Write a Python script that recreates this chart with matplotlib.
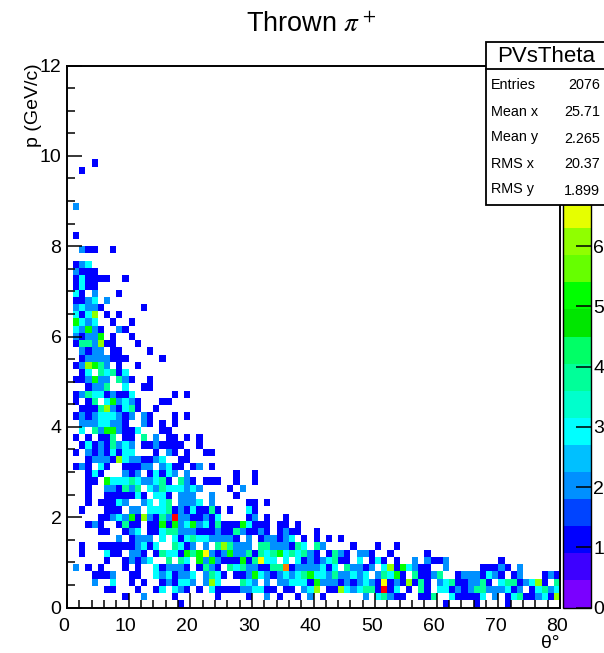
import numpy as np
import matplotlib
matplotlib.use("Agg")
import matplotlib.pyplot as plt
from matplotlib.colors import ListedColormap, BoundaryNorm
from matplotlib.patches import Rectangle
from matplotlib.ticker import MultipleLocator
from matplotlib.transforms import ScaledTranslation

plt.rcParams['font.family'] = ['Liberation Sans', 'DejaVu Sans']
plt.rcParams['mathtext.fontset'] = 'stix'

W, H = 604, 653

# counts per p bin: {theta bin: entries}, bins are 1 deg x 0.16 GeV/c
r00 = {18: 1, 61: 1, 66: 1, 71: 1}
r01 = {9: 1, 12: 2, 17: 1, 24: 1, 29: 1, 32: 2, 34: 1, 37: 1, 39: 2, 41: 1, 48: 2, 50: 3, 51: 4, 52: 2, 53: 1, 54: 1, 57: 1, 58: 1, 59: 4, 62: 3, 63: 1, 64: 1, 65: 1, 66: 1, 67: 3, 69: 2, 71: 1, 72: 3, 73: 4, 74: 1, 75: 1, 76: 2, 77: 3, 78: 1, 79: 6}
r02 = {6: 1, 7: 1, 11: 1, 14: 1, 15: 3, 17: 3, 18: 2, 19: 1, 21: 1, 23: 3, 24: 1, 25: 1, 26: 1, 27: 1, 28: 2, 29: 2, 30: 3, 31: 3, 32: 1, 33: 1, 35: 1, 36: 1, 38: 2, 39: 3, 40: 6, 42: 1, 43: 1, 44: 6, 45: 3, 46: 2, 47: 3, 48: 4, 49: 4, 50: 1, 51: 9, 52: 1, 53: 3, 55: 1, 57: 4, 58: 1, 60: 3, 61: 3, 62: 1, 63: 2, 64: 1, 65: 2, 66: 4, 67: 4, 68: 2, 69: 2, 70: 2, 71: 3, 72: 1, 73: 2, 75: 1, 76: 3, 77: 4, 78: 2, 79: 3}
r03 = {4: 2, 7: 3, 10: 1, 12: 1, 15: 1, 16: 2, 17: 1, 18: 3, 19: 3, 20: 2, 22: 2, 23: 6, 24: 3, 28: 4, 29: 3, 30: 2, 32: 2, 34: 2, 35: 2, 36: 3, 37: 3, 38: 3, 39: 1, 40: 5, 41: 2, 42: 2, 43: 2, 44: 1, 45: 2, 46: 1, 47: 2, 48: 3, 49: 2, 50: 1, 51: 7, 52: 1, 53: 2, 54: 1, 55: 6, 56: 1, 57: 4, 58: 1, 60: 2, 61: 3, 62: 4, 63: 1, 64: 1, 65: 2, 66: 2, 67: 4, 68: 1, 70: 3, 71: 4, 72: 4, 73: 1, 74: 2, 75: 3, 76: 6, 77: 1, 79: 4}
r04 = {4: 1, 5: 1, 6: 1, 7: 2, 10: 1, 11: 1, 14: 3, 15: 2, 16: 3, 17: 1, 18: 2, 19: 2, 20: 3, 22: 2, 23: 4, 24: 3, 25: 1, 27: 1, 28: 1, 29: 2, 30: 5, 31: 3, 32: 2, 33: 1, 34: 2, 35: 3, 36: 2, 37: 3, 38: 4, 39: 5, 40: 3, 41: 3, 42: 2, 43: 4, 44: 2, 45: 2, 46: 3, 47: 2, 48: 3, 50: 2, 51: 4, 52: 3, 53: 5, 54: 1, 56: 4, 57: 1, 58: 1, 59: 2, 60: 4, 63: 1, 64: 2, 65: 2, 66: 2, 67: 1, 68: 3, 69: 2, 70: 1, 72: 1, 73: 2, 77: 1, 78: 2, 79: 1}
r05 = {1: 2, 3: 1, 5: 1, 9: 1, 11: 1, 14: 3, 15: 1, 16: 2, 17: 2, 18: 2, 19: 1, 21: 1, 22: 4, 23: 2, 24: 1, 26: 4, 27: 3, 28: 4, 29: 2, 30: 2, 31: 1, 32: 1, 33: 4, 34: 4, 35: 8, 36: 1, 37: 2, 38: 2, 39: 2, 40: 2, 41: 3, 42: 1, 43: 3, 45: 4, 46: 2, 47: 2, 48: 1, 49: 2, 51: 3, 52: 6, 53: 1, 54: 5, 55: 3, 56: 2, 57: 1, 58: 1, 61: 2, 67: 1, 68: 1, 69: 1, 70: 2, 71: 1, 73: 2}
r06 = {6: 1, 9: 1, 10: 2, 11: 1, 12: 2, 13: 3, 16: 4, 18: 4, 19: 3, 21: 5, 22: 2, 23: 5, 24: 2, 25: 1, 26: 1, 27: 1, 28: 5, 29: 1, 30: 4, 31: 7, 32: 3, 33: 3, 35: 3, 37: 3, 38: 1, 39: 2, 40: 1, 41: 2, 42: 3, 43: 4, 44: 1, 45: 1, 47: 3, 49: 1, 50: 3, 51: 1, 53: 1, 56: 2, 58: 2, 59: 1, 60: 1, 61: 2, 70: 1}
r07 = {2: 1, 6: 3, 7: 1, 8: 1, 10: 2, 11: 2, 12: 1, 14: 1, 15: 4, 16: 3, 17: 3, 18: 1, 19: 5, 20: 4, 21: 5, 22: 7, 23: 2, 24: 1, 25: 2, 26: 5, 27: 2, 28: 2, 29: 4, 30: 1, 31: 4, 32: 3, 33: 4, 34: 5, 35: 3, 36: 4, 37: 3, 38: 4, 39: 2, 40: 1, 42: 1, 43: 4, 44: 2, 45: 1, 47: 2, 48: 2, 49: 1, 52: 1, 58: 1}
r08 = {2: 1, 5: 1, 6: 1, 7: 1, 8: 1, 9: 1, 10: 1, 11: 2, 12: 3, 13: 1, 14: 3, 17: 4, 18: 3, 19: 1, 20: 2, 22: 2, 24: 4, 25: 6, 26: 4, 27: 2, 28: 2, 29: 2, 31: 4, 32: 4, 33: 2, 34: 2, 35: 2, 36: 1, 37: 4, 38: 3, 40: 4, 41: 2, 46: 1, 50: 1, 53: 1}
r09 = {8: 2, 10: 1, 11: 2, 12: 2, 13: 2, 15: 3, 17: 3, 18: 1, 19: 3, 20: 4, 21: 3, 22: 3, 23: 2, 24: 2, 25: 2, 26: 2, 27: 1, 29: 2, 31: 1, 32: 2, 33: 2, 34: 1, 35: 2, 36: 3, 38: 1, 40: 1, 42: 1, 44: 1}
r10 = {5: 1, 6: 1, 9: 1, 10: 2, 11: 3, 13: 1, 14: 1, 15: 3, 16: 4, 17: 4, 18: 2, 19: 2, 20: 2, 21: 1, 22: 1, 23: 1, 24: 2, 25: 1, 26: 1, 27: 4, 28: 2, 29: 1, 30: 1, 31: 2, 32: 1, 34: 1, 35: 2, 36: 1, 37: 1, 40: 1}
r11 = {3: 1, 4: 2, 5: 1, 8: 1, 9: 4, 10: 1, 11: 1, 13: 1, 14: 1, 15: 5, 16: 1, 17: 5, 18: 2, 19: 3, 20: 5, 21: 2, 22: 3, 23: 1, 24: 4, 25: 1, 26: 1, 27: 1, 28: 5, 29: 3, 30: 1, 31: 1, 32: 1, 34: 1, 35: 1, 37: 1}
r12 = {5: 1, 6: 1, 7: 2, 8: 3, 9: 2, 10: 5, 11: 1, 12: 6, 13: 2, 14: 1, 15: 4, 16: 2, 17: 9, 18: 2, 19: 2, 20: 1, 21: 1, 22: 2, 23: 1, 24: 3, 29: 1, 30: 2, 32: 1, 35: 1}
r13 = {2: 1, 6: 1, 7: 1, 8: 1, 10: 2, 11: 2, 13: 3, 14: 3, 15: 3, 16: 4, 17: 1, 18: 2, 19: 1, 20: 3, 21: 1, 22: 1, 23: 4, 24: 1, 26: 1, 29: 3, 30: 1}
r14 = {3: 1, 5: 1, 6: 1, 7: 1, 8: 3, 9: 2, 12: 2, 13: 3, 15: 3, 16: 4, 18: 2, 19: 2, 20: 2, 21: 3, 23: 2, 29: 1, 30: 1, 32: 1}
r15 = {3: 1, 6: 1, 7: 1, 8: 1, 9: 1, 10: 1, 11: 3, 12: 1, 14: 3, 15: 3, 16: 1, 18: 2, 19: 2, 20: 2, 23: 2, 27: 1}
r16 = {3: 1, 6: 2, 7: 2, 8: 1, 9: 4, 10: 2, 11: 4, 13: 3, 14: 2, 15: 4, 16: 3, 17: 3, 18: 3, 19: 2, 20: 3, 21: 2, 26: 1, 28: 2}
r17 = {3: 1, 4: 1, 6: 5, 7: 3, 8: 3, 9: 3, 10: 4, 11: 3, 12: 2, 13: 2, 14: 3, 15: 4, 16: 1, 18: 4, 19: 2, 20: 1, 22: 1, 23: 1, 24: 1, 27: 1, 30: 1}
r18 = {3: 1, 4: 3, 5: 1, 9: 2, 10: 1, 11: 2, 13: 1, 14: 3, 15: 1, 16: 3, 17: 2, 19: 2, 27: 1, 30: 1}
r19 = {1: 1, 2: 2, 3: 1, 5: 3, 6: 1, 9: 1, 10: 1, 11: 1, 12: 2, 13: 2, 15: 2, 16: 3, 17: 1, 18: 1, 20: 1, 21: 2, 23: 1}
r20 = {3: 1, 4: 2, 5: 2, 6: 2, 7: 1, 8: 6, 9: 3, 10: 2, 11: 2, 12: 1, 13: 1, 14: 2, 15: 3, 18: 1, 19: 1}
r21 = {1: 1, 3: 2, 4: 1, 5: 2, 6: 1, 7: 3, 8: 1, 9: 3, 10: 3, 14: 1, 16: 2, 17: 1, 19: 1, 22: 1, 23: 1}
r22 = {2: 1, 3: 3, 4: 1, 5: 2, 6: 1, 7: 4, 8: 2, 9: 3, 10: 2, 12: 1, 13: 1, 14: 2, 15: 1, 16: 1, 17: 1, 18: 1, 21: 1}
r23 = {1: 1, 3: 1, 5: 1, 6: 1, 7: 4, 9: 1, 10: 1, 12: 4, 14: 2, 16: 1, 17: 1, 19: 1, 21: 1}
r24 = {2: 3, 4: 4, 5: 2, 6: 5, 7: 5, 8: 2, 9: 1, 10: 1, 11: 3, 15: 1, 16: 1}
r25 = {2: 2, 3: 2, 4: 2, 5: 3, 6: 3, 7: 2, 8: 2, 9: 1, 12: 2, 13: 1, 15: 1, 17: 1}
r26 = {1: 1, 2: 2, 3: 1, 4: 2, 5: 3, 6: 3, 7: 3, 8: 2, 9: 1, 10: 2, 12: 2, 13: 1, 17: 1, 19: 1}
r27 = {2: 1, 3: 1, 4: 1, 5: 4, 6: 6, 7: 2, 8: 1, 9: 3, 10: 4, 11: 1, 14: 1}
r28 = {1: 1, 3: 1, 4: 4, 6: 3, 7: 5, 8: 2, 9: 3, 10: 2, 11: 1, 15: 1, 16: 1}
r29 = {1: 1, 2: 2, 3: 4, 4: 3, 5: 3, 6: 1, 7: 2, 8: 1, 9: 1, 10: 3, 17: 1, 19: 1}
r30 = {3: 1, 4: 2, 5: 2, 6: 4, 9: 3, 12: 1, 13: 1}
r31 = {1: 1, 2: 1, 3: 2, 4: 5, 5: 2, 6: 2, 8: 4, 9: 2, 10: 1, 13: 1}
r32 = {2: 1, 3: 3, 5: 4, 6: 3, 7: 4, 8: 1, 9: 3}
r33 = {1: 1, 2: 2, 3: 6, 4: 5, 5: 4, 6: 2, 8: 1, 11: 1}
r34 = {2: 1, 3: 2, 4: 2, 5: 2, 6: 2, 7: 1, 8: 1, 9: 1, 15: 1}
r35 = {2: 2, 3: 1, 4: 2, 5: 2, 7: 1, 8: 1, 13: 1}
r36 = {1: 1, 2: 4, 3: 4, 4: 2, 5: 6, 6: 1, 7: 1, 11: 1}
r37 = {1: 2, 2: 1, 3: 2, 4: 2, 5: 5, 7: 1, 10: 1}
r38 = {1: 3, 2: 2, 3: 5, 4: 2, 5: 1, 8: 2, 9: 1}
r39 = {1: 5, 2: 3, 3: 2, 4: 3, 7: 1, 10: 1}
r40 = {1: 3, 2: 1, 3: 3, 4: 6, 6: 1, 8: 1}
r41 = {1: 2, 2: 3, 3: 2, 4: 2, 5: 1, 12: 1}
r42 = {1: 1, 2: 1, 3: 2, 4: 3, 6: 2}
r43 = {1: 3, 2: 1, 4: 2, 8: 1}
r44 = {1: 1, 2: 3, 3: 1, 4: 1}
r45 = {1: 1, 2: 3, 3: 1, 4: 1, 5: 1, 6: 1, 9: 1}
r46 = {1: 2, 2: 1, 3: 1, 4: 1}
r47 = {1: 1, 2: 2, 3: 3}
r49 = {2: 2, 3: 1, 4: 1, 7: 1}
r51 = {1: 1}
r55 = {1: 2}
r60 = {2: 1}
r61 = {4: 1}

rows = {0: r00, 1: r01, 2: r02, 3: r03, 4: r04, 5: r05, 6: r06, 7: r07, 8: r08, 9: r09,
        10: r10, 11: r11, 12: r12, 13: r13, 14: r14, 15: r15, 16: r16, 17: r17, 18: r18, 19: r19,
        20: r20, 21: r21, 22: r22, 23: r23, 24: r24, 25: r25, 26: r26, 27: r27, 28: r28, 29: r29,
        30: r30, 31: r31, 32: r32, 33: r33, 34: r34, 35: r35, 36: r36, 37: r37, 38: r38, 39: r39,
        40: r40, 41: r41, 42: r42, 43: r43, 44: r44, 45: r45, 46: r46, 47: r47, 49: r49, 51: r51,
        55: r55, 60: r60, 61: r61}

stat_names = ["Entries", "Mean x", "Mean y", "RMS x", "RMS y"]
stat_values = ["2076", "25.71", "2.265", "20.37", "1.899"]

palette = ["#7a00ff", "#3d00ff", "#0000ff", "#0044ff", "#0090ff",
           "#00c0ff", "#00ffff", "#00ffcc", "#00ff99", "#00ff66",
           "#00e600", "#00ff00", "#66ff00", "#90ff00", "#e6ff00",
           "#ffff00", "#ffcc00", "#ff8000", "#ff4000", "#ff0000"]

counts = np.zeros((75, 80))
for r, row in rows.items():
    for c, n in row.items():
        counts[r, c] = n

theta_edges = np.linspace(0, 80, 81)
p_edges = np.linspace(0, 12, 76)


def box(x0, y0, x1, y1):
    return [x0 / W, 1 - y1 / H, (x1 - x0) / W, (y1 - y0) / H]


fig = plt.figure(figsize=(W / 100, H / 100), dpi=100)
ax = fig.add_axes(box(67, 65.5, 560, 607.5))
cax = fig.add_axes(box(562.5, 65.5, 590.5, 607.5))

cmap = ListedColormap(palette)
norm = BoundaryNorm(np.linspace(0, 9, 21), 20, clip=True)
mesh = ax.pcolormesh(theta_edges, p_edges, np.ma.masked_equal(counts, 0), cmap=cmap, norm=norm)

ax.set_xlim(0, 80)
ax.set_ylim(0, 12)
ax.xaxis.set_major_locator(MultipleLocator(10))
ax.xaxis.set_minor_locator(MultipleLocator(2))
ax.yaxis.set_major_locator(MultipleLocator(2))
ax.yaxis.set_minor_locator(MultipleLocator(0.5))
ax.tick_params(which='major', direction='in', length=11, width=1.1, labelsize=14, pad=4)
ax.tick_params(which='minor', direction='in', length=5.5, width=1.1)
ax.tick_params(axis='x', which='major', pad=7.5)
for s in ax.spines.values():
    s.set_linewidth(1.4)

# x tick labels sit a little left of their ticks
shift = ScaledTranslation(-3 / 100, 0, fig.dpi_scale_trans)
for lab in ax.get_xticklabels():
    lab.set_transform(lab.get_transform() + shift)

ax.set_xlabel("θ°", fontsize=14, loc='right', labelpad=0)
ax.set_ylabel("p (GeV/c)", fontsize=14, loc='top')
ax.yaxis.set_label_coords(-25 / 493, 1.003)

cb = fig.colorbar(mesh, cax=cax, ticks=range(0, 7), spacing='proportional', drawedges=False)
cb.ax.tick_params(direction='in', length=11, width=1.1, labelsize=14, pad=2)
cb.ax.minorticks_off()
cb.outline.set_linewidth(1.0)

# title and stats box drawn in pixel coordinates
over = fig.add_axes([0, 0, 1, 1], zorder=5)
over.set_xlim(0, W)
over.set_ylim(H, 0)
over.axis('off')
over.text(311, 25, r"Thrown $\pi^+$", fontsize=19.5, ha='center', va='center')
over.add_patch(Rectangle((486, 42), 130, 163, fc='white', ec='black', lw=1.3, clip_on=True))
over.plot([486, 604], [69, 69], color='black', lw=1.3)
over.text(546, 57, "PVsTheta", fontsize=16, ha='center', va='center')
name_y = [85, 112, 137, 164, 189]
value_y = [85, 112, 139, 164, 191]
for name, value, ny, vy in zip(stat_names, stat_values, name_y, value_y):
    over.text(491, ny, name, fontsize=10.4, ha='left', va='center')
    over.text(600, vy, value, fontsize=10.4, ha='right', va='center')

fig.savefig("out.png", dpi=100)
